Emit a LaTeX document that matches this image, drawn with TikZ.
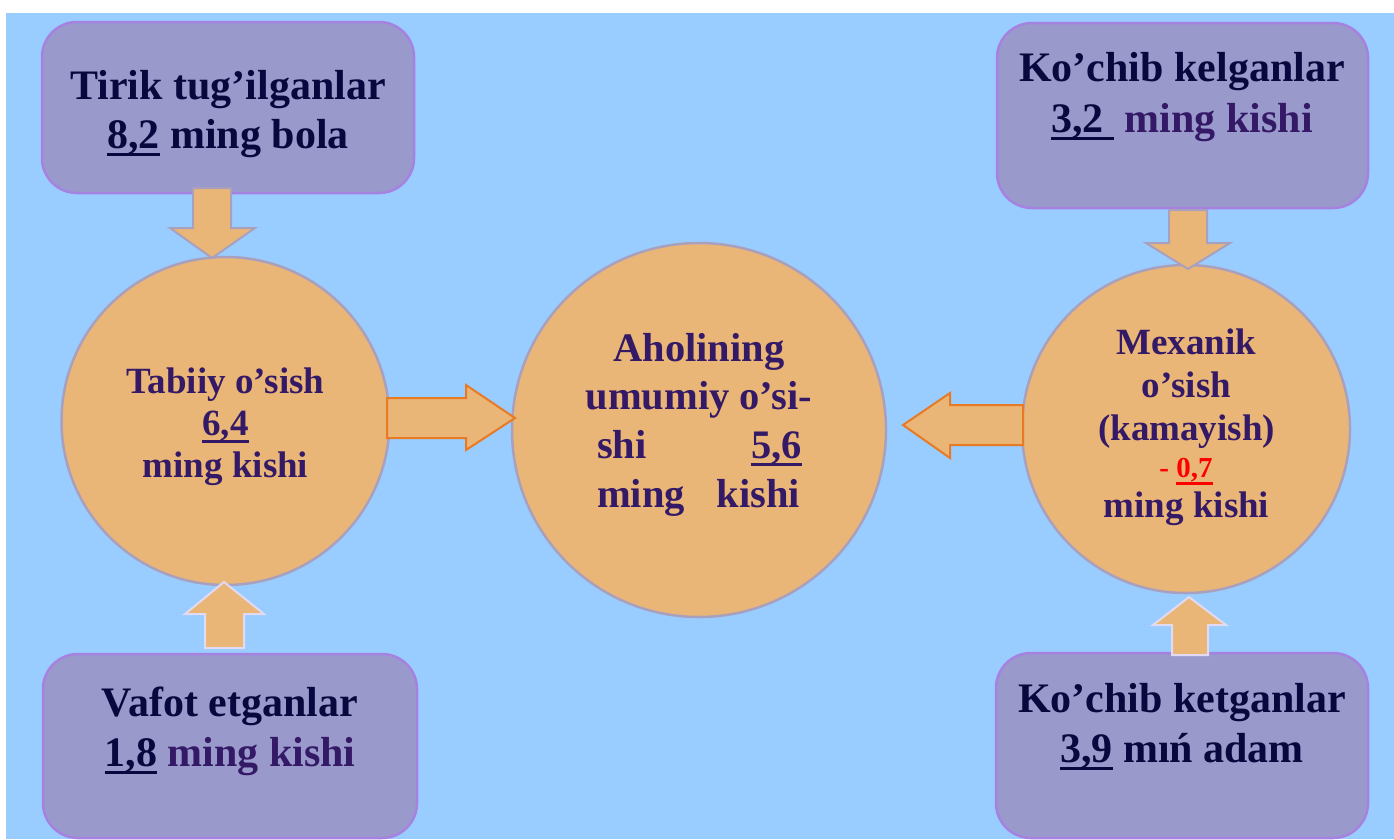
\documentclass[tikz,border=0pt]{standalone}
\usepackage{fontspec}
\setmainfont{Liberation Serif}
\definecolor{bgblue}{HTML}{99CCFF}
\definecolor{boxfill}{HTML}{9999CC}
\definecolor{boxline}{HTML}{A682E0}
\definecolor{circfill}{HTML}{EAB677}
\definecolor{circline}{HTML}{A9A0BE}
\definecolor{navy}{HTML}{08083F}
\definecolor{plum}{HTML}{341A66}
\definecolor{arrorange}{HTML}{E97A24}
\definecolor{arrgray}{HTML}{A9A0BE}
\definecolor{arrlav}{HTML}{E2DAF2}
\definecolor{redval}{HTML}{FF0000}
\newcommand\ulx[1]{\setbox0\hbox{#1}\rlap{\rule[-8pt]{\wd0}{3.5pt}}\box0\relax}
\begin{document}
\begin{tikzpicture}[x=1pt,y=-1pt,
  infobox/.style={draw=boxline, line width=2.5pt, fill=boxfill, rounded corners=35pt, inner sep=0pt},
  circ/.style={circle, draw=circline, line width=2.5pt, fill=circfill, inner sep=0pt},
  boxtxt/.style={anchor=base, inner sep=0pt, text=navy, font=\fontsize{42}{49}\selectfont\bfseries},
  circtxt/.style={anchor=base, inner sep=0pt, text=plum, font=\fontsize{37}{42}\selectfont\bfseries},
  ctrtxt/.style={anchor=base, inner sep=0pt, text=plum, font=\fontsize{40.5}{49}\selectfont\bfseries},
  blockarrow/.style={fill=circfill, line width=2pt, line join=miter}]
\useasboundingbox (0,0) rectangle (1394,839);
\fill[white] (0,0) rectangle (1394,839);
\fill[bgblue] (6,13) rectangle (1394,839);

% boxes
\node[infobox, minimum width=372pt, minimum height=171pt] (tl) at (228,107.5) {};
\node[infobox, minimum width=371pt, minimum height=185pt] (tr) at (1182.5,115.5) {};
\node[infobox, minimum width=374pt, minimum height=184pt] (bl) at (230,746) {};
\node[infobox, minimum width=372pt, minimum height=185pt] (br) at (1182,745.5) {};

% circles
\node[circ, minimum size=328pt] (cl) at (225.5,421) {};
\node[circ, minimum size=374pt] (cc) at (699,430) {};
\node[circ, minimum size=328pt] (cr) at (1186,429) {};

% box texts
\node[boxtxt] (tl1) at (228,99) {Tirik tug’ilganlar};
\node[boxtxt] (tl2) at (228,148) {\ulx{8,2} ming bola};
\node[boxtxt] (tr1) at (1182,81) {Ko’chib kelganlar};
\node[boxtxt] (tr2) at (1182,132) {\ulx{3,2\ } {\color{plum}ming kishi}};
\node[boxtxt] (bl1) at (230,716) {Vafot etganlar};
\node[boxtxt] (bl2) at (230,766) {\ulx{1,8} {\color{plum}ming kishi}};
\node[boxtxt] (br1) at (1182,712) {Ko’chib ketganlar};
\node[boxtxt] (br2) at (1182,762) {\ulx{3,9} mıń adam};

% left circle text
\node[circtxt] (cl1) at (225.5,393) {Tabiiy o’sish};
\node[circtxt] (cl2) at (225.5,435) {\ulx{6,4}};
\node[circtxt] (cl3) at (225.5,477) {ming kishi};

% centre circle text
\node[ctrtxt] (cc1) at (699,361) {Aholining};
\node[ctrtxt] (cc2) at (699,409) {umumiy o’si-};
\node[ctrtxt] (cc3) at (699.5,458) {\hbox to 205pt{shi\hfill\ulx{5,6}}};
\node[ctrtxt] (cc4) at (698.5,507) {\hbox to 203pt{ming\hfill kishi}};

% right circle text
\node[circtxt] (cr1) at (1186.5,354) {Mexanik};
\node[circtxt] (cr2) at (1186.5,397) {o’sish};
\node[circtxt] (cr3) at (1186.5,440) {(kamayish)};
\node[circtxt, text=redval, font=\fontsize{29}{34}\selectfont\bfseries] (cr4) at (1186,477) {- \ulx{0,7}};
\node[circtxt] (cr5) at (1186.5,517) {ming kishi};

% block arrows
\draw[blockarrow, draw=arrgray] (193,188) -- (231,188) -- (231,228) -- (255,228) -- (212,258) -- (170,228) -- (193,228) -- cycle;
\draw[blockarrow, draw=arrgray] (1169,210) -- (1207,210) -- (1207,243) -- (1230,243) -- (1188,269) -- (1146,243) -- (1169,243) -- cycle;
\draw[blockarrow, draw=arrlav] (205,648) -- (244,648) -- (244,614) -- (264,614) -- (224,582) -- (185,614) -- (205,614) -- cycle;
\draw[blockarrow, draw=arrlav] (1172,655) -- (1208,655) -- (1208,625) -- (1226,625) -- (1189,597) -- (1153,625) -- (1172,625) -- cycle;
\draw[blockarrow, draw=arrorange] (387,398) -- (466,398) -- (466,385) -- (515,418) -- (466,450) -- (466,438) -- (387,438) -- cycle;
\draw[blockarrow, draw=arrorange] (1023,405) -- (950,405) -- (950,393) -- (903,425) -- (950,458) -- (950,445) -- (1023,445) -- cycle;
\end{tikzpicture}
\end{document}
